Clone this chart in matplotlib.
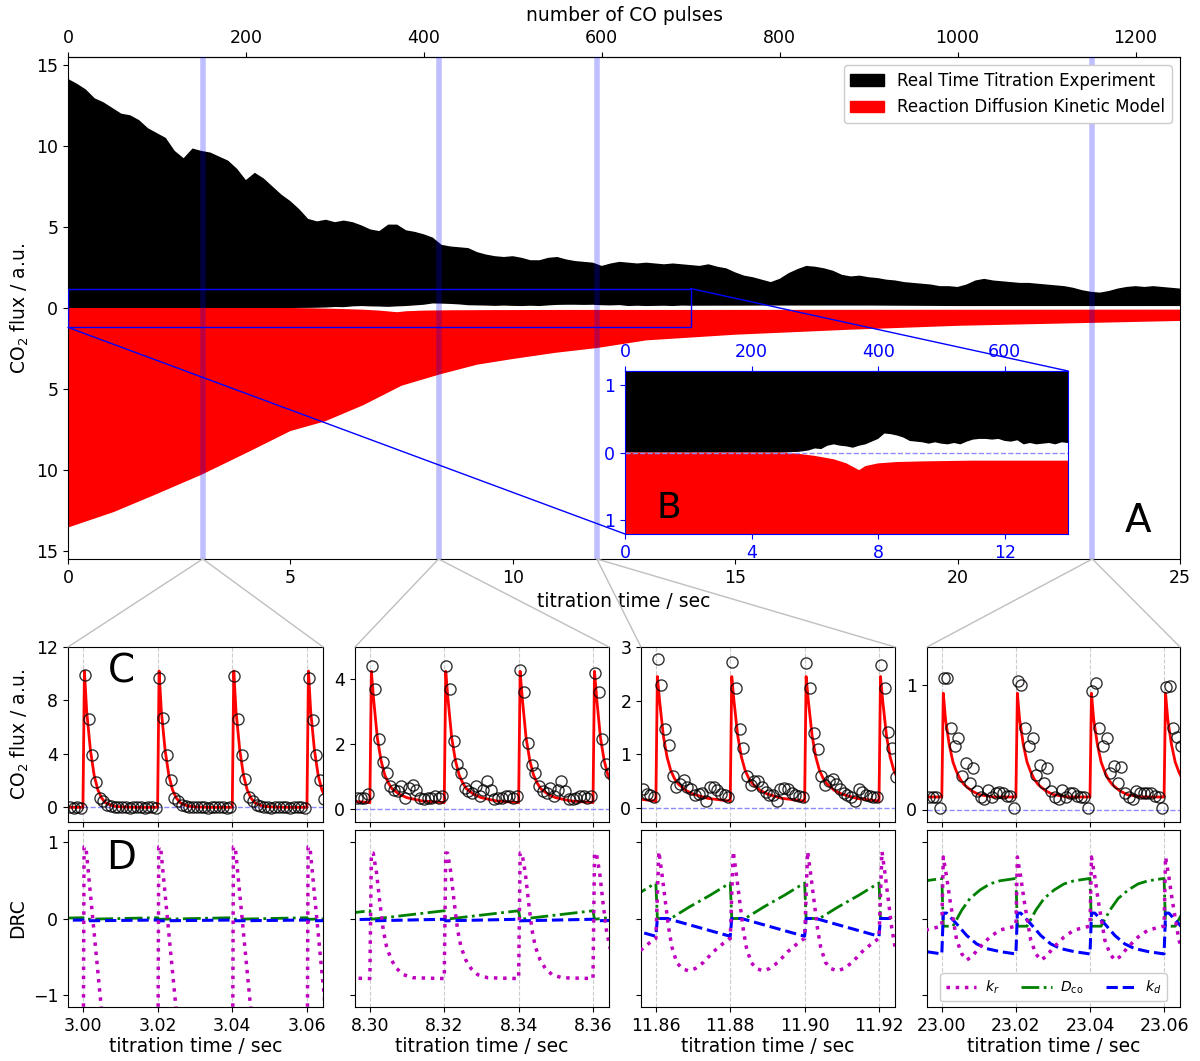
import numpy as np
import matplotlib
matplotlib.use('Agg')
import matplotlib.pyplot as plt
from matplotlib.patches import Patch, Rectangle, ConnectionPatch
from matplotlib.ticker import FuncFormatter

plt.rcParams['font.family'] = ['DejaVu Sans']

# ------------------------------------------------------------------ data
pulses_per_sec = 50

# experiment envelope (upper = max of CO2 flux, lower = min)
exp_max_t = [0.0, 0.2, 0.4, 0.6, 0.8, 1.0, 1.2, 1.4, 1.6, 1.8, 2.0, 2.2, 2.4, 2.6, 2.8, 3.0,
             3.2, 3.4, 3.6, 3.8, 4.0, 4.2, 4.4, 4.6, 4.8, 5.0, 5.2, 5.4, 5.6, 5.8, 6.0, 6.2,
             6.4, 6.6, 6.8, 7.0, 7.2, 7.4, 7.6, 7.8, 8.0, 8.2, 8.4, 8.6, 8.8, 9.0, 9.2, 9.4,
             9.6, 9.8, 10.0, 10.2, 10.4, 10.6, 10.8, 11.0, 11.2, 11.4, 11.6, 11.8, 12.0, 12.2,
             12.4, 12.6, 12.8, 13.0, 13.2, 13.4, 13.6, 13.8, 14.0, 14.2, 14.4, 14.6, 14.8, 15.0,
             15.2, 15.4, 15.6, 15.8, 16.0, 16.2, 16.4, 16.6, 16.8, 17.0, 17.2, 17.4, 17.6, 17.8,
             18.0, 18.2, 18.4, 18.6, 18.8, 19.0, 19.2, 19.4, 19.6, 19.8, 20.0, 20.2, 20.4, 20.6,
             20.8, 21.0, 21.2, 21.4, 21.6, 21.8, 22.0, 22.2, 22.4, 22.6, 22.8, 23.0, 23.2, 23.4,
             23.6, 23.8, 24.0, 24.2, 24.4, 24.6, 24.8, 25.0]
exp_max = [14.15, 13.85, 13.5, 12.95, 12.7, 12.35, 12.0, 11.9, 11.6, 11.1, 10.8, 10.5, 9.7, 9.25,
           9.85, 9.7, 9.6, 9.35, 9.1, 8.6, 7.9, 8.35, 8.0, 7.5, 7.0, 6.6, 6.1, 5.5, 5.35, 5.45,
           5.3, 5.4, 5.3, 5.1, 4.85, 4.75, 5.15, 5.15, 4.8, 4.7, 4.55, 4.35, 3.9, 3.8, 3.75, 3.7,
           3.45, 3.3, 3.2, 3.15, 3.2, 3.1, 2.95, 2.95, 3.1, 3.15, 3.0, 2.9, 2.85, 2.8, 2.6, 2.75,
           2.85, 2.8, 2.75, 2.8, 2.75, 2.7, 2.75, 2.7, 2.65, 2.6, 2.7, 2.55, 2.45, 2.2, 2.0, 1.9,
           1.75, 1.6, 1.8, 2.15, 2.4, 2.6, 2.55, 2.45, 2.3, 2.05, 1.95, 2.0, 1.9, 1.85, 1.75, 1.7,
           1.6, 1.55, 1.5, 1.45, 1.35, 1.35, 1.3, 1.45, 1.7, 1.8, 1.7, 1.65, 1.6, 1.55, 1.55, 1.5,
           1.45, 1.4, 1.35, 1.25, 1.1, 1.0, 0.95, 1.05, 1.2, 1.3, 1.35, 1.3, 1.35, 1.3, 1.25, 1.2]
exp_min_t = [0.0, 5.0, 5.5, 5.8, 6.0, 6.2, 6.4, 6.6, 6.8, 7.0, 7.2, 7.4, 7.6, 7.8, 8.0, 8.2,
             8.4, 8.6, 8.8, 9.0, 9.2, 9.4, 9.6, 9.8, 10.0, 10.2, 10.4, 10.6, 10.8, 11.0, 11.2,
             11.4, 11.6, 11.8, 12.0, 12.2, 12.4, 12.6, 12.8, 13.0, 13.2, 13.4, 13.6, 13.8, 14.0,
             16.0, 18.0, 20.0, 22.0, 25.0]
exp_min = [0.0, 0.0, 0.01, 0.03, 0.06, 0.05, 0.1, 0.12, 0.1, 0.09, 0.07, 0.1, 0.12, 0.16, 0.2,
           0.28, 0.27, 0.25, 0.22, 0.17, 0.16, 0.15, 0.13, 0.15, 0.13, 0.12, 0.14, 0.12, 0.16,
           0.19, 0.2, 0.2, 0.19, 0.2, 0.17, 0.16, 0.18, 0.12, 0.14, 0.12, 0.13, 0.14, 0.12, 0.15,
           0.14, 0.15, 0.15, 0.12, 0.12, 0.12]

# model envelope (drawn mirrored below zero)
mod_max_t = [0.0, 1.03, 1.9, 3.0, 4.05, 5.0, 5.78, 6.64, 7.5, 8.36, 9.2, 10.0, 10.95, 11.9,
             13.0, 15.0, 17.5, 20.0, 22.5, 25.0]
mod_max = [13.56, 12.6, 11.6, 10.3, 8.9, 7.6, 7.0, 6.0, 4.8, 4.1, 3.5, 3.15, 2.77, 2.47,
           2.0, 1.65, 1.35, 1.1, 0.95, 0.8]
mod_min_t = [0.0, 5.0, 5.5, 6.0, 6.6, 7.0, 7.2, 7.4, 7.6, 8.0, 8.6, 9.5, 11.0, 14.0, 25.0]
mod_min = [0.0, 0.0, 0.02, 0.05, 0.1, 0.16, 0.21, 0.26, 0.2, 0.16, 0.14, 0.13, 0.12, 0.12, 0.1]

# zoom windows
win_start = [2.996, 8.296, 11.856, 22.996]
win_width = 0.0683
first_pulse = [3.00, 8.30, 11.86, 23.00]
pulse_period = 0.02
sample_dt = 0.001
circle_t0 = [2.9965, 8.2965, 11.8565, 22.9965]
xtick_labels = [["3.00", "3.02", "3.04", "3.06"], ["8.30", "8.32", "8.34", "8.36"],
                ["11.86", "11.88", "11.90", "11.92"], ["23.00", "23.02", "23.04", "23.06"]]

# measured CO2 flux (circles), one value per sample
circ_vals = [
    [0.0, -0.05, 0.0, -0.05,
     9.9, 6.6, 3.9, 1.9, 0.7, 0.5, 0.15, 0.1, 0.0, 0.05, 0.0, 0.0, -0.05, 0.0, 0.05, 0.0, -0.05, 0.0, 0.0, -0.05,
     9.7, 6.65, 3.95, 2.05, 0.7, 0.45, 0.15, 0.1, 0.05, 0.0, 0.0, 0.05, 0.0, -0.05, 0.0, 0.0, 0.05, 0.0, -0.05, 0.0,
     9.85, 6.6, 3.9, 2.15, 0.75, 0.45, 0.2, 0.1, 0.05, 0.0, -0.05, 0.0, 0.05, 0.0, 0.0, -0.05, 0.0, 0.0, 0.05, -0.05,
     9.7, 6.5, 3.95, 2.05, 0.65],
    [0.35, 0.35, 0.35, 0.45,
     4.4, 3.7, 2.15, 1.45, 1.1, 0.7, 0.6, 0.55, 0.7, 0.35, 0.65, 0.75, 0.6, 0.35, 0.3, 0.35, 0.35, 0.4, 0.35, 0.4,
     4.4, 3.7, 2.1, 1.4, 1.1, 0.65, 0.55, 0.5, 0.7, 0.4, 0.6, 0.85, 0.6, 0.3, 0.35, 0.35, 0.4, 0.4, 0.35, 0.4,
     4.3, 3.6, 2.05, 1.35, 1.1, 0.7, 0.55, 0.5, 0.65, 0.4, 0.6, 0.85, 0.55, 0.3, 0.3, 0.35, 0.4, 0.4, 0.35, 0.4,
     4.2, 3.6, 2.15, 1.4, 1.1],
    [0.36, 0.27, 0.24, 0.2,
     2.77, 2.29, 1.47, 1.17, 0.6, 0.39, 0.45, 0.52, 0.39, 0.36, 0.24, 0.27, 0.28, 0.14, 0.39, 0.4, 0.33, 0.27, 0.24, 0.2,
     2.72, 2.24, 1.47, 1.12, 0.6, 0.42, 0.5, 0.5, 0.4, 0.3, 0.25, 0.25, 0.14, 0.35, 0.38, 0.35, 0.28, 0.25, 0.22, 0.2,
     2.7, 2.24, 1.4, 1.1, 0.6, 0.42, 0.5, 0.55, 0.45, 0.35, 0.28, 0.25, 0.2, 0.13, 0.35, 0.3, 0.25, 0.22, 0.2, 0.2,
     2.66, 2.24, 1.42, 1.12, 0.57],
    [0.1, 0.1, 0.1, 0.01,
     1.05, 1.05, 0.65, 0.51, 0.57, 0.27, 0.37, 0.21, 0.33, 0.15, 0.1, 0.085, 0.16, 0.1, 0.13, 0.14, 0.13, 0.11, 0.11, 0.01,
     1.03, 1.0, 0.65, 0.51, 0.57, 0.28, 0.36, 0.21, 0.33, 0.15, 0.1, 0.085, 0.16, 0.1, 0.13, 0.13, 0.11, 0.1, 0.1, 0.01,
     0.95, 1.01, 0.65, 0.51, 0.57, 0.29, 0.35, 0.21, 0.34, 0.13, 0.1, 0.085, 0.15, 0.13, 0.13, 0.13, 0.13, 0.11, 0.1, 0.01,
     0.98, 0.99, 0.65, 0.58, 0.51],
]

# model pulse profile (one period, repeats every pulse)
model_off = [0.0, 0.0004, 0.001, 0.002, 0.003, 0.004, 0.005, 0.006, 0.008, 0.010, 0.014, 0.0199]
model_vals = [
    [0.0, 10.2, 7.2, 4.3, 2.4, 1.3, 0.7, 0.35, 0.1, 0.03, 0.0, 0.0],
    [0.2, 4.25, 3.4, 2.2, 1.5, 1.05, 0.8, 0.62, 0.45, 0.35, 0.25, 0.2],
    [0.12, 2.45, 2.0, 1.35, 0.95, 0.7, 0.55, 0.45, 0.33, 0.26, 0.18, 0.13],
    [0.1, 0.93, 0.72, 0.52, 0.38, 0.3, 0.24, 0.2, 0.15, 0.12, 0.1, 0.1],
]
c_ylims = [(-1.1, 12.0), (-0.4, 5.0), (-0.26, 3.0), (-0.1, 1.3)]
c_yticks = [[0, 4, 8, 12], [0, 2, 4], [0, 1, 2, 3], [0, 1]]

# degree of rate control, one period per window
kr_off = [[0, 0.0003, 0.0008, 0.0048, 0.008, 0.0199],
          [0, 0.0004, 0.0009, 0.0018, 0.0027, 0.0036, 0.0045, 0.0058, 0.0072, 0.009, 0.0117, 0.0199],
          [0, 0.0008, 0.0016, 0.0025, 0.0034, 0.0043, 0.0056, 0.007, 0.0088, 0.0106, 0.0128, 0.0155, 0.0182, 0.0199],
          [0, 0.0004, 0.0013, 0.0022, 0.0031, 0.004, 0.0054, 0.0067, 0.008, 0.0103, 0.013, 0.0157, 0.0199]]
kr_val = [[-3.0, 0.93, 0.93, -1.1, -2.5, -3.0],
          [-0.78, 0.85, 0.85, 0.59, 0.2, -0.15, -0.37, -0.54, -0.65, -0.73, -0.77, -0.78],
          [-0.26, 0.87, 0.59, 0.24, -0.11, -0.37, -0.57, -0.65, -0.68, -0.65, -0.57, -0.43, -0.32, -0.26],
          [-0.1, 0.8, 0.54, 0.24, -0.02, -0.28, -0.46, -0.54, -0.5, -0.37, -0.24, -0.15, -0.1]]
dco_off = [[0, 0.0004, 0.0199],
           [0, 0.0004, 0.0199],
           [0, 0.0004, 0.004, 0.009, 0.0145, 0.0199],
           [0, 0.0004, 0.003, 0.0054, 0.0076, 0.0103, 0.013, 0.0157, 0.0199]]
dco_val = [[0.01, -0.01, 0.01],
           [0.1, -0.01, 0.1],
           [0.46, 0.0, 0.0, 0.15, 0.3, 0.46],
           [0.52, -0.1, -0.1, 0.11, 0.26, 0.37, 0.45, 0.49, 0.52]]
kd_off = [[0, 0.0004, 0.0199],
          [0, 0.0004, 0.0199],
          [0, 0.0004, 0.003, 0.0199],
          [0, 0.0004, 0.0013, 0.004, 0.0067, 0.0094, 0.012, 0.0157, 0.0199]]
kd_val = [[-0.02, -0.03, -0.02],
          [-0.01, -0.03, -0.01],
          [-0.23, 0.0, 0.0, -0.23],
          [-0.46, 0.07, 0.07, -0.07, -0.22, -0.33, -0.39, -0.43, -0.46]]

# ------------------------------------------------------------------ figure
W, H = 1200, 1061
fig = plt.figure(figsize=(W / 100, H / 100), dpi=100)


def px_axes(x0, y0, x1, y1):
    return fig.add_axes([x0 / W, 1 - y1 / H, (x1 - x0) / W, (y1 - y0) / H])


absfmt = FuncFormatter(lambda v, pos: f"{abs(v):g}")
TICK = 12.5
LAB = 13.5

# ---------------- panel A
axA = px_axes(68, 57, 1180, 559)
black_x = np.r_[exp_max_t, exp_min_t[::-1]]
black_y = np.r_[exp_max, exp_min[::-1]]
red_x = np.r_[mod_min_t, mod_max_t[::-1]]
red_y = -np.r_[mod_min, mod_max[::-1]]
axA.fill(black_x, black_y, color='black', lw=0, zorder=2)
axA.fill(red_x, red_y, color='red', lw=0, zorder=2)
axA.set_xlim(0, 25)
axA.set_ylim(-15.5, 15.5)
axA.set_yticks([-15, -10, -5, 0, 5, 10, 15])
axA.yaxis.set_major_formatter(absfmt)
axA.set_xticks([0, 5, 10, 15, 20, 25])
axA.tick_params(labelsize=TICK)
axA.set_xlabel('titration time / sec', fontsize=LAB, labelpad=4)
axA.set_ylabel('CO$_2$ flux / a.u.', fontsize=LAB)
secA = axA.secondary_xaxis('top', functions=(lambda t: t * pulses_per_sec,
                                             lambda p: p / pulses_per_sec))
secA.set_xticks([0, 200, 400, 600, 800, 1000, 1200])
secA.tick_params(labelsize=TICK)
secA.set_xlabel('number of CO pulses', fontsize=LAB, labelpad=6)

centers = [s + win_width / 2 for s in win_start]
for c in centers:
    axA.axvline(c, color='blue', alpha=0.25, lw=4, zorder=3)

axA.add_patch(Rectangle((0, -1.2), 14, 2.4, fill=False, ec='blue', lw=1.0, zorder=4))
axA.legend(handles=[Patch(color='black', label='Real Time Titration Experiment'),
                    Patch(color='red', label='Reaction Diffusion Kinetic Model')],
           loc='upper right', fontsize=12, framealpha=1, borderaxespad=0.5)
axA.text(0.962, 0.075, 'A', transform=axA.transAxes, fontsize=28, ha='center', va='center')

# ---------------- inset B
axB = px_axes(625, 371, 1068, 534)
axB.fill(black_x, black_y, color='black', lw=0)
axB.fill(red_x, red_y, color='red', lw=0)
axB.axhline(0, color=(0.55, 0.55, 1.0), ls='--', lw=1)
axB.set_xlim(0, 14)
axB.set_ylim(-1.2, 1.2)
axB.set_xticks([0, 4, 8, 12])
axB.set_yticks([-1, 0, 1])
axB.yaxis.set_major_formatter(absfmt)
axB.tick_params(colors='blue', labelsize=TICK)
for sp in axB.spines.values():
    sp.set_color('blue')
secB = axB.secondary_xaxis('top', functions=(lambda t: t * pulses_per_sec,
                                             lambda p: p / pulses_per_sec))
secB.set_xticks([0, 200, 400, 600])
secB.tick_params(colors='blue', labelsize=TICK)
secB.spines['top'].set_color('blue')
axB.text(0.10, 0.16, 'B', transform=axB.transAxes, fontsize=26, ha='center', va='center')

for pa, pb in [((14, 1.2), (1, 1)), ((0, -1.2), (0, 0))]:
    con = ConnectionPatch(xyA=pa, coordsA=axA.transData, xyB=pb, coordsB=axB.transAxes,
                          color='blue', lw=1.0)
    fig.add_artist(con)

# ---------------- panels C and D
cols = [(68, 323), (355, 609), (641, 895), (927, 1180)]
for i, (x0, x1) in enumerate(cols):
    axC = px_axes(x0, 647, x1, 822)
    axD = px_axes(x0, 830, x1, 1007)
    lo, hi = win_start[i], win_start[i] + win_width
    ticks = [first_pulse[i] + pulse_period * k for k in range(4)]
    allp = [first_pulse[i] + pulse_period * k for k in range(-1, 4)]

    for ax in (axC, axD):
        ax.set_xlim(lo, hi)
        ax.set_xticks(ticks)
        for p in ticks:
            ax.axvline(p, color='0.8', ls='--', lw=0.8, zorder=0)
        ax.tick_params(labelsize=TICK)

    # C: measurement + model
    axC.axhline(0, color=(0.55, 0.55, 1.0), ls='--', lw=1, zorder=1)
    mx = np.concatenate([p + np.array(model_off) for p in allp])
    my = np.tile(model_vals[i], len(allp))
    axC.plot(mx, my, color='red', lw=2, zorder=2)
    ct = circle_t0[i] + sample_dt * np.arange(len(circ_vals[i]))
    axC.plot(ct, circ_vals[i], 'o', mfc='none', mec='black', mew=1.0, ms=8, alpha=0.8, zorder=3)
    axC.set_ylim(*c_ylims[i])
    axC.set_yticks(c_yticks[i])
    axC.set_xticklabels([])

    # D: DRC
    def tiled(off, val):
        x = np.concatenate([p + np.array(off) for p in allp])
        y = np.tile(val, len(allp))
        return x, y

    x, y = tiled(kr_off[i], kr_val[i])
    axD.plot(x, y, color='m', ls=':', lw=2.5, label='$k_r$', zorder=3)
    x, y = tiled(dco_off[i], dco_val[i])
    axD.plot(x, y, color='green', ls='-.', lw=2, label='$D_{\\rm co}$', zorder=2)
    x, y = tiled(kd_off[i], kd_val[i])
    axD.plot(x, y, color='blue', ls='--', lw=2.2, label='$k_d$', zorder=2)
    axD.set_ylim(-1.15, 1.15)
    axD.set_yticks([-1, 0, 1])
    axD.set_xticklabels(xtick_labels[i])
    axD.set_xlabel('titration time / sec', fontsize=LAB, labelpad=2)
    if i == 0:
        axC.set_ylabel('CO$_2$ flux / a.u.', fontsize=LAB)
        axD.set_ylabel('DRC', fontsize=LAB)
        axC.text(0.21, 0.86, 'C', transform=axC.transAxes, fontsize=28, ha='center', va='center')
        axD.text(0.21, 0.84, 'D', transform=axD.transAxes, fontsize=28, ha='center', va='center')
    else:
        axD.set_yticklabels([])
    if i == 3:
        axD.legend(loc='lower center', ncol=3, fontsize=10, handlelength=2.2,
                   columnspacing=1.6, handletextpad=0.6, framealpha=1, borderaxespad=0.4)

    # connectors from panel A to the zoom window
    for xb in (0, 1):
        con = ConnectionPatch(xyA=(centers[i], -15.5), coordsA=axA.transData,
                              xyB=(xb, 1), coordsB=axC.transAxes, color='0.75', lw=1.0)
        fig.add_artist(con)

fig.savefig('out.png', dpi=100)
